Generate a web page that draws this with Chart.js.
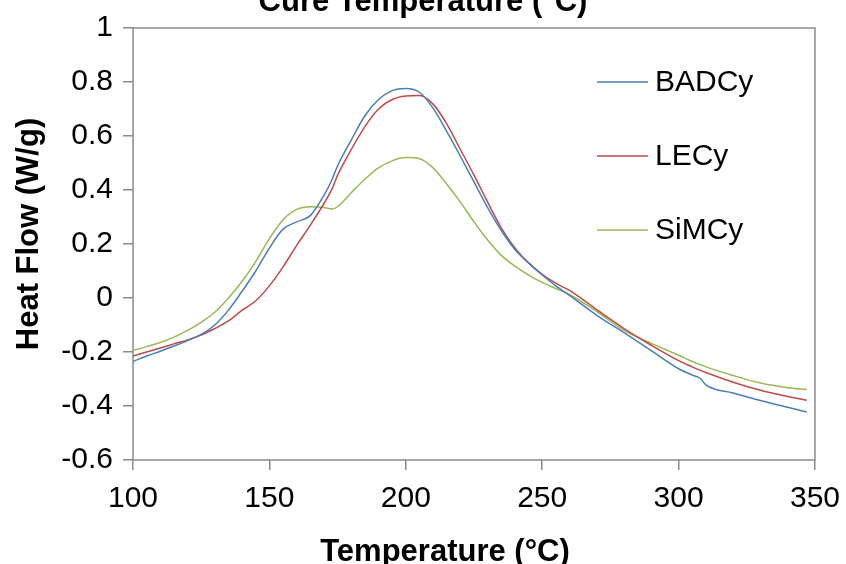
<!DOCTYPE html>
<html>
<head>
<meta charset="utf-8">
<script src="https://cdn.jsdelivr.net/npm/chart.js@4.4.1/dist/chart.umd.min.js"></script>
<style>
  body { margin: 0; background: #fff; }
  #wrap { width: 846px; height: 564px; }
</style>
</head>
<body>
<div id="wrap"><canvas id="dsc" width="846" height="564"></canvas></div>
<script>
// temperature grid (°C) shared by the three DSC traces
const temps = [100, 105, 110, 115, 120, 125, 130, 135, 140, 145, 150, 155, 160, 165, 170, 173, 175,
    180, 185, 190, 195, 200, 205, 210, 215, 220, 225, 230, 235, 240, 245, 250, 255, 260,
    270, 280, 290, 300, 305, 308, 310, 320, 330, 340, 347];

// heat flow (W/g)
const badcy = [-0.235, -0.215, -0.197, -0.178, -0.158, -0.135, -0.1, -0.045, 0.025, 0.1, 0.185, 0.255,
    0.282, 0.305, 0.38, 0.44, 0.49, 0.585, 0.675, 0.735, 0.768, 0.776, 0.762, 0.703, 0.617, 0.525,
    0.43, 0.335, 0.25, 0.18, 0.13, 0.085, 0.045, 0.01, -0.064, -0.128, -0.195, -0.262, -0.285,
    -0.298, -0.322, -0.352, -0.38, -0.405, -0.422];
const lecy = [-0.215, -0.2, -0.185, -0.17, -0.155, -0.137, -0.113, -0.085, -0.045, -0.01, 0.045, 0.115,
    0.195, 0.27, 0.35, 0.405, 0.455, 0.55, 0.635, 0.7, 0.735, 0.748, 0.75, 0.718, 0.645, 0.55,
    0.455, 0.355, 0.26, 0.185, 0.13, 0.088, 0.055, 0.028, -0.043, -0.113, -0.175, -0.232, -0.255,
    -0.268, -0.276, -0.312, -0.342, -0.365, -0.379];
const simcy = [-0.195, -0.18, -0.165, -0.145, -0.12, -0.09, -0.053, 0.0, 0.062, 0.135, 0.22, 0.29,
    0.328, 0.338, 0.335, 0.33, 0.338, 0.39, 0.44, 0.482, 0.508, 0.52, 0.516, 0.482, 0.422, 0.355,
    0.282, 0.215, 0.158, 0.118, 0.085, 0.058, 0.035, 0.013, -0.05, -0.12, -0.168, -0.212, -0.235,
    -0.247, -0.255, -0.287, -0.315, -0.332, -0.339];

const seriesNames = ["BADCy", "LECy", "SiMCy"];
const seriesColors = ["#4A7EBB", "#BE4B48", "#98B954"];
const xTicks = [100, 150, 200, 250, 300, 350];
const yTicks = [-0.6, -0.4, -0.2, 0, 0.2, 0.4, 0.6, 0.8, 1];

const chartTitle = "Cure Temperature (°C)";
const xTitle = "Temperature (°C)";
const yTitle = "Heat Flow (W/g)";

const FONT = "'Liberation Sans', Arial, sans-serif";
const AXIS_GRAY = "#8a8a8a";

const toPoints = function(vals) {
    return temps.map((t, i) => ({ x: t, y: vals[i] }));
};

// frame, legend and titles the way the spreadsheet drew them
const decorations = {
    id: "decorations",
    beforeDatasetsDraw(chart) {
        const ctx = chart.ctx, a = chart.chartArea;
        ctx.save();
        ctx.strokeStyle = AXIS_GRAY;
        ctx.lineWidth = 1.5;
        ctx.strokeRect(a.left, a.top, a.right - a.left, a.bottom - a.top);
        ctx.restore();
    },
    afterDraw(chart) {
        const ctx = chart.ctx;
        ctx.save();
        ctx.fillStyle = "#000";

        // legend inside plot
        ctx.font = "30px " + FONT;
        ctx.textBaseline = "middle";
        ctx.textAlign = "left";
        const legendY = [82, 156, 230];
        chart.data.datasets.forEach((ds, i) => {
            ctx.strokeStyle = ds.borderColor;
            ctx.lineWidth = 1.5;
            ctx.beginPath();
            ctx.moveTo(597, legendY[i]);
            ctx.lineTo(648, legendY[i]);
            ctx.stroke();
            ctx.fillText(ds.label, 655, legendY[i] + 1);
        });

        // titles
        ctx.font = "bold 31px " + FONT;
        ctx.textBaseline = "alphabetic";
        ctx.textAlign = "center";
        ctx.fillText(chartTitle, 423, 11);
        ctx.fillText(xTitle, 445, 561);

        ctx.translate(38, 234);
        ctx.rotate(-Math.PI / 2);
        ctx.fillText(yTitle, 0, 0);
        ctx.restore();
    }
};

const makeChart = function() {
    const ctx = document.getElementById("dsc").getContext("2d");
    const allSeries = [badcy, lecy, simcy];
    new Chart(ctx, {
        type: "line",
        data: {
            datasets: allSeries.map((vals, i) => ({
                label: seriesNames[i],
                data: toPoints(vals),
                borderColor: seriesColors[i],
                borderWidth: 1.5,
                pointRadius: 0,
                cubicInterpolationMode: "monotone",
                fill: false
            }))
        },
        options: {
            responsive: false,
            animation: false,
            layout: { padding: { left: 0, right: 31, top: 26, bottom: 0 } },
            plugins: {
                legend: { display: false },
                title: { display: false },
                tooltip: { enabled: false }
            },
            scales: {
                x: {
                    type: "linear",
                    min: xTicks[0],
                    max: xTicks[xTicks.length - 1],
                    afterBuildTicks: (s) => { s.ticks = xTicks.map(v => ({ value: v })); },
                    afterFit: (s) => { s.height = 104; s.paddingLeft = 0; s.paddingRight = 0; },
                    border: { display: false },
                    grid: { drawOnChartArea: false, drawTicks: true, tickLength: 10, color: AXIS_GRAY, lineWidth: 1.5 },
                    ticks: { color: "#000", font: { family: FONT, size: 30 }, padding: 11, maxRotation: 0 }
                },
                y: {
                    min: yTicks[0],
                    max: yTicks[yTicks.length - 1],
                    afterBuildTicks: (s) => { s.ticks = yTicks.map(v => ({ value: v })); },
                    afterFit: (s) => { s.width = 133; },
                    border: { display: false },
                    grid: { drawOnChartArea: false, drawTicks: true, tickLength: 10, color: AXIS_GRAY, lineWidth: 1.5 },
                    ticks: {
                        color: "#000",
                        font: { family: FONT, size: 30 },
                        padding: 10,
                        callback: (v) => String(Number(v.toFixed(1)))
                    }
                }
            }
        },
        plugins: [decorations]
    });
};

makeChart();
</script>
</body>
</html>
